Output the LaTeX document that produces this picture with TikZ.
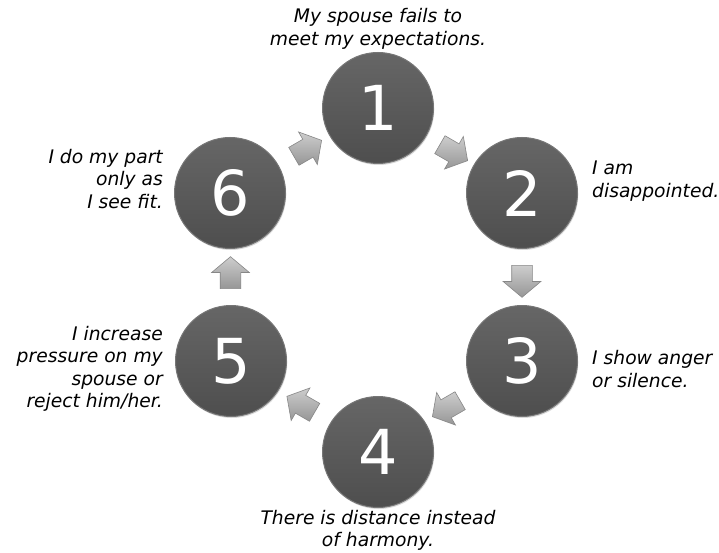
\documentclass[tikz,border=0pt]{standalone}
\usepackage{fontspec}
\setmainfont{DejaVu Sans}
\definecolor{mydisk}{RGB}{78,78,78}
\definecolor{mydisktop}{RGB}{102,102,102}
\definecolor{myrim}{RGB}{118,118,118}
\definecolor{myarrow}{RGB}{150,150,150}
\definecolor{myarrowtop}{RGB}{205,205,205}
\usetikzlibrary{positioning,shapes.arrows,shadows,calc}

\begin{document}
\begin{tikzpicture}[x=1pt,y=1pt,
    stepdisk/.style={circle,minimum size=111pt,inner sep=0pt,
        top color=mydisktop,bottom color=mydisk,draw=myrim,line width=1pt,
        text=white,font=\fontsize{62}{62}\selectfont,
        drop shadow={opacity=0.3,shadow xshift=0.8pt,shadow yshift=-1.5pt}},
    flowarrow/.style={single arrow,minimum height=32pt,minimum width=37pt,
        single arrow head extend=8.5pt,single arrow tip angle=100,
        inner xsep=0pt,inner ysep=10pt,
        top color=myarrowtop,bottom color=myarrow,draw=myarrow!90!black,line width=0.6pt},
    caption/.style={inner sep=0pt,font=\itshape\fontsize{18.7}{22.5}\selectfont},
    node distance=12pt
    ]
    \path[use as bounding box,fill=white] (0,0) rectangle (719,552);

    % the circles
    \node (n1) [stepdisk] at (378,444) {1};
    \node (n2) [stepdisk] at (522,359) {2};
    \node (n3) [stepdisk] at (522,191) {3};
    \node (n4) [stepdisk] at (378,100) {4};
    \node (n5) [stepdisk] at (231,191) {5};
    \node (n6) [stepdisk] at (230,359) {6};

    % the arrows
    \node (a12) [flowarrow,rotate=-30] at ($(n1)!0.5!(n2)$) {};
    \node (a23) [flowarrow,rotate=-90] at ($(n2)!0.5!(n3)$) {};
    \node (a34) [flowarrow,rotate=-150] at ($(n3)!0.5!(n4)$) {};
    \node (a45) [flowarrow,rotate=150] at ($(n4)!0.5!(n5)$) {};
    \node (a56) [flowarrow,rotate=90] at ($(n5)!0.5!(n6)$) {};
    \node (a61) [flowarrow,rotate=30] at ($(n6)!0.5!(n1)$) {};

    % the captions
    \node (c1) [caption,align=center,above=2.7pt of n1] {My spouse fails to\\meet my expectations.};
    \node (c2) [caption,align=left,right=14pt of n2,yshift=12pt] {I am\\disappointed.};
    \node (c3) [caption,align=left,right=14pt of n3,yshift=-8pt] {I show anger\\or silence.};
    \node (c4) [caption,align=center,below=2pt of n4] {There is distance instead\\of harmony.};
    \node (c5) [caption,align=right,left=12pt of n5,yshift=-8pt] {I increase\\pressure on my\\spouse or\\reject him/her.};
    \node (c6) [caption,align=right,left=11pt of n6,yshift=14pt] {I do my part\\only as\\I see fit.};
\end{tikzpicture}
\end{document}
